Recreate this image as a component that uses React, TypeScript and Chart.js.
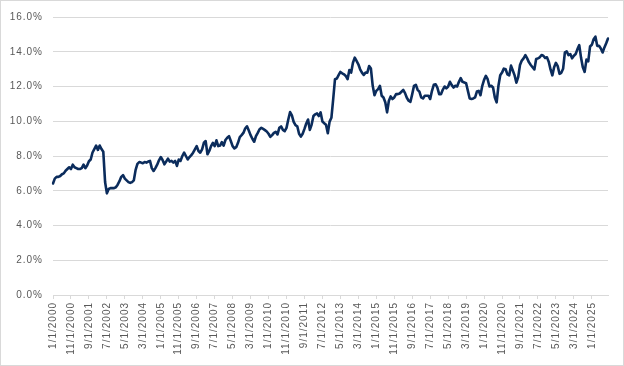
import React, { useEffect, useRef } from "react";
import { Chart, registerables } from "chart.js";

Chart.register(...registerables);

const START_YEAR = 2000;

// Monthly values (%) from Jan 2000
const seriesValues: number[] = [
  6.42, 6.7, 6.8, 6.8, 6.85, 6.95, 7.0, 7.15, 7.25, 7.35,
  7.25, 7.5, 7.35, 7.3, 7.25, 7.25, 7.3, 7.5, 7.3, 7.45,
  7.7, 7.8, 8.2, 8.4, 8.6, 8.35, 8.6, 8.4, 8.25, 6.5,
  5.85, 6.1, 6.15, 6.15, 6.15, 6.2, 6.35, 6.55, 6.8, 6.9,
  6.7, 6.6, 6.5, 6.45, 6.5, 6.6, 7.2, 7.55, 7.65,
  7.62, 7.58, 7.65, 7.62, 7.68, 7.72, 7.3, 7.14, 7.3, 7.5,
  7.75, 7.94, 7.77, 7.52, 7.68, 7.85, 7.68, 7.72, 7.62, 7.72,
  7.43, 7.8, 7.72, 8.0, 8.19, 8.0, 7.8, 7.94, 8.05, 8.19,
  8.38, 8.57, 8.29, 8.19, 8.38, 8.76, 8.86, 8.1, 8.29, 8.57,
  8.76, 8.57, 8.9, 8.57, 8.6, 8.8, 8.6, 8.92, 9.05, 9.14,
  8.86, 8.57, 8.44, 8.51, 8.76, 9.09, 9.2, 9.33, 9.58, 9.71,
  9.47, 9.2, 8.99, 8.82, 9.14, 9.33, 9.54, 9.62, 9.56, 9.49,
  9.41, 9.28, 9.1, 9.2, 9.33, 9.39, 9.24, 9.62, 9.7, 9.5,
  9.43, 9.62, 10.1, 10.53, 10.34, 9.96, 9.77, 9.71, 9.28, 9.12,
  9.28, 9.56, 9.87, 10.1, 9.5, 9.81, 10.3, 10.4, 10.45, 10.3,
  10.51, 9.98, 9.89, 9.8, 9.31, 9.98, 10.2, 11.28, 12.42, 12.46,
  12.65, 12.84, 12.76, 12.7, 12.61, 12.42, 12.95, 12.8, 13.37, 13.66,
  13.47, 13.28, 12.99, 12.8, 12.67, 12.8, 12.8, 13.18, 13.03, 12.04,
  11.5, 11.75, 11.85, 12.04, 11.47, 11.37, 11.09, 10.51, 11.18, 11.43,
  11.28, 11.37, 11.56, 11.56, 11.6, 11.7, 11.8, 11.62, 11.35, 11.18,
  11.12, 11.56, 12.04, 12.1, 11.81, 11.7, 11.37, 11.31, 11.47, 11.47,
  11.47, 11.28, 11.75, 12.1, 12.13, 11.94, 11.56, 11.56, 11.81, 12.0,
  11.89, 12.0, 12.27, 12.08, 11.94, 12.04, 12.0, 12.27, 12.48, 12.27,
  12.23, 12.19, 11.75, 11.31, 11.28, 11.31, 11.37, 11.71, 11.75, 11.5,
  12.04, 12.38, 12.61, 12.42, 12.0, 12.04, 11.94, 11.37, 11.09, 12.04,
  12.65, 12.8, 13.03, 12.99, 12.7, 12.64, 13.2, 12.92, 12.64, 12.22,
  12.54, 13.24, 13.49, 13.62, 13.81, 13.62, 13.39, 13.24, 13.11, 12.98,
  13.58, 13.62, 13.68, 13.81, 13.77, 13.64, 13.68, 13.43, 12.98, 12.64,
  13.11, 13.36, 13.17, 12.73, 12.79, 13.02, 13.96, 14.02, 13.81, 13.87,
  13.62, 13.77, 13.87, 14.15, 14.38, 13.65, 13.1, 12.84, 13.55, 13.45,
  14.3, 14.4, 14.72, 14.87, 14.34, 14.34, 14.19, 13.96, 14.25, 14.49,
  14.76,
];

const categories: string[] = seriesValues.map((_, i) => {
  const m = (i % 12) + 1;
  const y = START_YEAR + Math.floor(i / 12);
  return `${m}/1/${y}`;
});

const LABEL_EVERY = 10;
const yTicks = { min: 0, max: 16, step: 2 };

const letterSpacingPlugin = {
  id: "letterSpacing",
  beforeDraw(chart: any) {
    (chart.ctx as any).letterSpacing = "1px";
  },
  afterDraw(chart: any) {
    (chart.ctx as any).letterSpacing = "0px";
  },
};

export default function App() {
  const ref = useRef<HTMLCanvasElement | null>(null);

  useEffect(() => {
    document.body.style.margin = "0";
    if (!ref.current) return;
    const font = { family: "'Liberation Sans', Arial, sans-serif", size: 10 };
    const chart = new Chart(ref.current, {
      type: "line",
      data: {
        labels: categories,
        datasets: [
          {
            data: seriesValues,
            borderColor: "#0b2c5c",
            borderWidth: 2.6,
            pointRadius: 0,
            tension: 0,
            fill: false,
            borderJoinStyle: "round",
            borderCapStyle: "round",
          },
        ],
      },
      options: {
        animation: false,
        responsive: false,
        maintainAspectRatio: false,
        layout: { padding: { top: 14, right: 13, left: 0, bottom: 0 } },
        plugins: {
          legend: { display: false },
          tooltip: { enabled: false },
          title: { display: false },
        },
        scales: {
          x: {
            type: "category",
            offset: false,
            afterFit: (s: any) => {
              s.height = 70;
            },
            grid: {
              display: true,
              drawOnChartArea: false,
              drawTicks: true,
              tickLength: 4,
              color: (ctx: any) => (ctx.index % LABEL_EVERY === 0 ? "#d9d9d9" : "rgba(0,0,0,0)"),
            },
            border: { display: true, color: "#d9d9d9", width: 1 },
            ticks: {
              autoSkip: false,
              minRotation: 90,
              maxRotation: 90,
              padding: 3,
              color: "#595959",
              font,
              callback: (_v: any, i: number) => (i % LABEL_EVERY === 0 ? categories[i] : ""),
            },
          },
          y: {
            min: yTicks.min,
            max: yTicks.max,
            afterFit: (s: any) => {
              s.width = 52;
            },
            grid: { color: "#d9d9d9", drawTicks: false, lineWidth: 1 },
            border: { display: false },
            ticks: {
              stepSize: yTicks.step,
              padding: 10,
              color: "#595959",
              font,
              callback: (v: any) => Number(v).toFixed(1) + "%",
            },
          },
        },
      },
      plugins: [letterSpacingPlugin],
    } as any);
    return () => chart.destroy();
  }, []);

  return (
    <div
      style={{
        width: 624,
        height: 366,
        boxSizing: "border-box",
        border: "1px solid #d9d9d9",
        background: "#fff",
      }}
    >
      <canvas ref={ref} width={622} height={364} style={{ display: "block", width: 622, height: 364 }} />
    </div>
  );
}
